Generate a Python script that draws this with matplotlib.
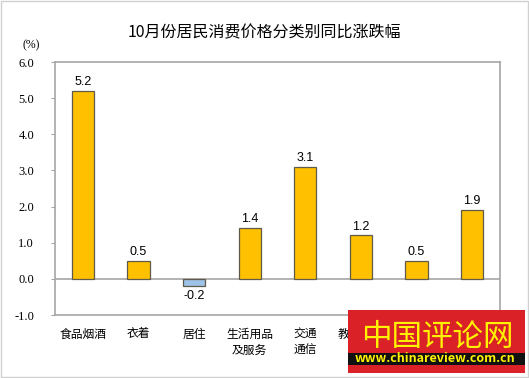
import matplotlib
matplotlib.use("Agg")
import matplotlib.pyplot as plt
from matplotlib.patches import Rectangle
import numpy as np

plt.rcParams['font.family'] = ['Noto Sans CJK SC', 'DejaVu Sans']

categories = ["食品烟酒", "衣着", "居住", "生活用品\n及服务", "交通\n通信",
              "教育文化\n娱乐", "医疗\n保健", "其他用品\n及服务"]
values = [5.2, 0.5, -0.2, 1.4, 3.1, 1.2, 0.5, 1.9]
yticks = [-1.0, 0.0, 1.0, 2.0, 3.0, 4.0, 5.0, 6.0]

fig = plt.figure(figsize=(5.29, 3.78), dpi=100)
ax = fig.add_axes([55 / 529, 1 - 315 / 378, 445 / 529, 253 / 378])

x = np.arange(len(categories))
colors = ["#FFC000" if v >= 0 else "#9DC3E6" for v in values]
ax.bar(x, values, width=0.4, color=colors, edgecolor="#5f5a4a", linewidth=0.9, zorder=3)

for xi, v in zip(x, values):
    if v >= 0:
        ax.text(xi, v + 0.08, f"{v:.1f}", ha="center", va="bottom",
                fontsize=9, family="Liberation Sans", zorder=4)
    else:
        ax.text(xi, v - 0.12, f"{v:.1f}", ha="center", va="top",
                fontsize=9, family="Liberation Sans", zorder=4)

ax.axhline(0, color="#a6a6a6", lw=1.2, zorder=2)
ax.set_xlim(-0.5, len(categories) - 0.5)
ax.set_ylim(-1.0, 6.0)
ax.set_yticks(yticks)
ax.set_yticklabels([f"{t:.1f}" for t in yticks], family=["Liberation Serif"], fontsize=9)
ax.set_xticks(x)
ax.set_xticklabels(categories, fontsize=8.5, linespacing=1.35, va="top")
ax.tick_params(axis="x", length=0, pad=9)
ax.tick_params(axis="y", length=3, color="#a6a6a6", pad=12)
for s in ax.spines.values():
    s.set_color("#a6a6a6")
    s.set_linewidth(1.2)

fig.text(31 / 529, 1 - 45 / 378, "(%)", ha="center", va="center",
         family=["Liberation Serif"], fontsize=8.5)
fig.text(264 / 529, 1 - 33 / 378, "10月份居民消费价格分类别同比涨跌幅",
         ha="center", va="center", fontsize=11.5)

# outer frame
fig.add_artist(Rectangle((1 / 529, 1 / 378), 527 / 529, 376 / 378,
                         transform=fig.transFigure, fill=False,
                         edgecolor="#d0d0d0", lw=1))

# watermark
fig.add_artist(Rectangle((348 / 529, 1 - 373 / 378), 177 / 529, 63 / 378,
                         transform=fig.transFigure, facecolor="#DA2128",
                         edgecolor="none", zorder=10))
fig.add_artist(Rectangle((348 / 529, 1 - 365 / 378), 177 / 529, 12 / 378,
                         transform=fig.transFigure, facecolor="#111111",
                         edgecolor="none", zorder=11))
fig.text(437 / 529, 1 - 337 / 378, "中国评论网", ha="center", va="center",
         fontsize=22, color="#FFF200", zorder=12)
fig.text(435 / 529, 1 - 359 / 378, "www.chinareview.com.cn", ha="center", va="center",
         fontsize=9, color="#FFF200", fontweight="bold", zorder=12)

fig.savefig("out.png", dpi=100)
